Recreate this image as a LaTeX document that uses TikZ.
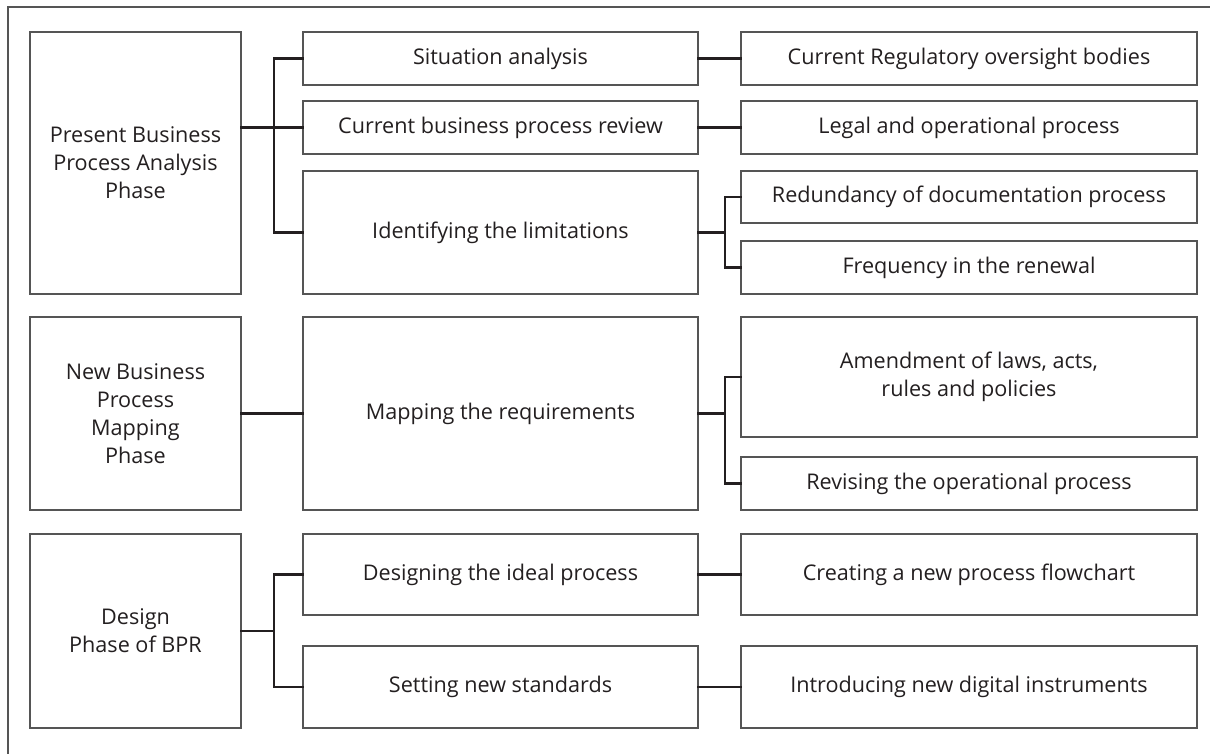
\documentclass[tikz,border=0pt]{standalone}
\usepackage{fontspec}
\setmainfont{Open Sans}
\usetikzlibrary{calc}
\definecolor{frame}{HTML}{555555}
\definecolor{ink}{HTML}{231F20}
\tikzset{
  stagebox/.style={draw=frame, line width=1.3pt, fill=white, inner sep=0pt, outer sep=0pt,
    align=center, text=ink, font=\fontsize{21.6}{28}\selectfont},
  link/.style={draw=ink, line width=2.4pt, line cap=rect}
}
% \stage{name}{x1}{y1}{x2}{y2}{text}: box given by its corners in pixel units
\newcommand{\stage}[6]{%
  \node[stagebox, minimum width={(#4-#2)*1pt}, minimum height={(#5-#3)*1pt}]
    (#1) at ({(#2+#4)/2},{(#3+#5)/2}) {#6};}
\begin{document}
\begin{tikzpicture}[x=1pt, y=-1pt]
\useasboundingbox (0,0) rectangle (1210,754);
% outer frame (left and top edges)
\draw[frame, line width=1.3pt] (8,754) -- (8,7) -- (1210,7);

% ---- Present business process analysis ----
\stage{present}{30}{32}{241}{294}{Present Business\\Process Analysis\\Phase}
\stage{situation}{303}{32}{698}{85}{Situation analysis}
\stage{review}{303}{101}{698}{154}{Current business process review}
\stage{limits}{303}{171}{698}{294}{Identifying the limitations}
\stage{bodies}{741}{32}{1197}{85}{Current Regulatory oversight bodies}
\stage{legal}{741}{101}{1197}{154}{Legal and operational process}
\stage{redund}{741}{171}{1197}{223}{Redundancy of documentation process}
\stage{renewal}{741}{241}{1197}{294}{Frequency in the renewal}

% ---- New business process mapping ----
\stage{mapphase}{30}{317}{241}{510}{New Business\\Process\\Mapping\\Phase}
\stage{mapping}{303}{317}{698}{510}{Mapping the requirements}
\stage{amend}{741}{317}{1197}{437}{Amendment of laws, acts,\\rules and policies}
\stage{revise}{741}{457}{1197}{510}{Revising the operational process}

% ---- Design phase ----
\stage{design}{30}{534}{241}{728}{Design\\Phase of BPR}
\stage{ideal}{303}{534}{698}{615}{Designing the ideal process}
\stage{standards}{303}{646}{698}{728}{Setting new standards}
\stage{flowchart}{741}{534}{1197}{615}{Creating a new process flowchart}
\stage{instruments}{741}{646}{1197}{728}{Introducing new digital instruments}

% bracket columns
\coordinate (colA) at (274,0);
\coordinate (colB) at (725,0);

% connectors
\draw[link] (present.east |- review.west) -- (review.west);
\draw[link] (situation.west) -| (situation.west -| colA) |- (limits.west);
\draw[link] (situation.east) -- (bodies.west);
\draw[link] (review.east) -- (legal.west);
\draw[link] (limits.east) -- (limits.east -| colB);
\draw[link] (redund.west) -| (redund.west -| colB) |- (renewal.west);

\draw[link] (mapphase.east) -- (mapping.west);
\draw[link] (mapping.east) -- (mapping.east -| colB);
\draw[link] (amend.west) -| (amend.west -| colB) |- (revise.west);

\draw[link] (design.east) -- (design.east -| colA);
\draw[link] (ideal.west) -| (ideal.west -| colA) |- (standards.west);
\draw[link] (ideal.east) -- (flowchart.west);
\draw[link] (standards.east) -- (instruments.west);
\end{tikzpicture}
\end{document}
